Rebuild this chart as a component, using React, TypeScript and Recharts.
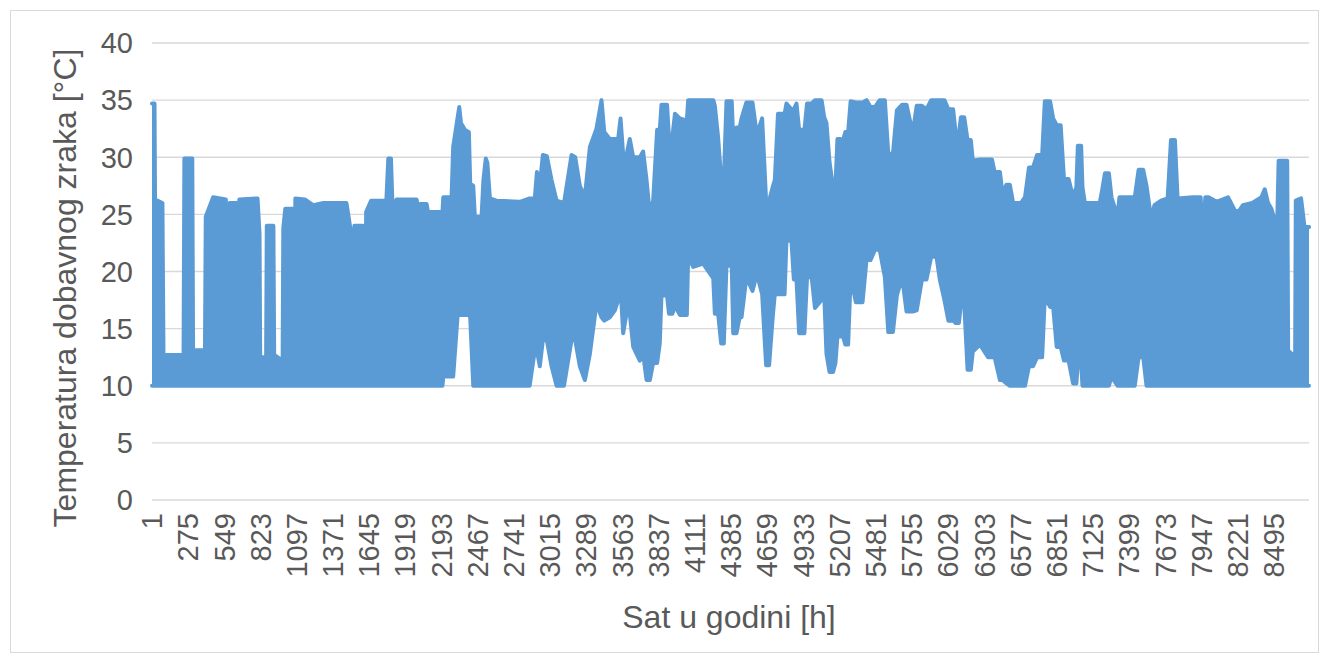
import { Area, AreaChart, CartesianGrid, XAxis, YAxis } from "recharts";

// hourly air temperature, drawn as the daily low/high envelope
const hours = [
  1, 20, 24, 80, 88, 240, 246, 306, 312, 402, 408, 464, 560, 566, 583, 588, 645, 654, 662, 800,
  815, 820, 865, 870, 920, 926, 990, 995, 1010, 1068, 1072, 1080, 1086, 1158, 1221, 1300, 1473, 1505, 1512, 1528,
  1533, 1598, 1603, 1616, 1622, 1660, 1764, 1775, 1790, 1810, 1822, 1852, 2004, 2010, 2080, 2090, 2200, 2206, 2269, 2281,
  2315, 2327, 2340, 2370, 2400, 2410, 2433, 2445, 2496, 2510, 2528, 2540, 2559, 2609, 2786, 2860, 2899, 2915, 2937, 2960,
  2990, 3026, 3064, 3120, 3177, 3205, 3240, 3278, 3316, 3366, 3404, 3425, 3467, 3505, 3530, 3548, 3568, 3593, 3618, 3644,
  3694, 3719, 3745, 3770, 3795, 3825, 3845, 3858, 3900, 3915, 3940, 3960, 3997, 4050, 4060, 4098, 4173, 4250, 4262, 4287,
  4310, 4330, 4350, 4390, 4401, 4426, 4450, 4464, 4501, 4547, 4580, 4620, 4650, 4673, 4700, 4716, 4740, 4790, 4804, 4842,
  4860, 4880, 4900, 4940, 4960, 4995, 5020, 5070, 5090, 5107, 5130, 5157, 5175, 5190, 5208, 5233, 5250, 5271, 5290, 5330,
  5380, 5410, 5440, 5475, 5510, 5549, 5575, 5610, 5640, 5680, 5713, 5760, 5790, 5830, 5864, 5900, 5940, 5965, 6000, 6030,
  6066, 6085, 6110, 6125, 6150, 6175, 6200, 6215, 6270, 6330, 6360, 6380, 6420, 6440, 6470, 6495, 6520, 6580, 6610, 6640,
  6670, 6702, 6740, 6760, 6800, 6823, 6850, 6880, 6905, 6940, 6974, 6999, 7010, 7035, 7045, 7063, 7176, 7195, 7215, 7245,
  7265, 7310, 7325, 7441, 7470, 7505, 7530, 7565, 7590, 7640, 7690, 7715, 7745, 7765, 7880, 7940, 7950, 7960, 7975, 8000,
  8060, 8147, 8200, 8230, 8260, 8330, 8400, 8425, 8450, 8475, 8500, 8520, 8530, 8595, 8602, 8655, 8660, 8700, 8725, 8760,
];

const lowTemps = [
  10, 10, 10, 10, 10, 10, 10, 10, 10, 10, 10, 10, 10, 10, 10, 10, 10, 10, 10, 10,
  10, 10, 10, 10, 10, 10, 10, 10, 10, 10, 10, 10, 10, 10, 10, 10, 10, 10, 10, 10,
  10, 10, 10, 10, 10, 10, 10, 10, 10, 10, 10, 10, 10, 10, 10, 10, 10, 10.8, 10.8, 10.8,
  16.2, 16.2, 16.2, 16.2, 16.2, 16, 10, 10, 10, 10, 10, 10, 10, 10, 10, 10, 13.1, 13.1, 11.7, 14,
  14, 11.7, 10, 10, 14, 14, 11.7, 10.5, 12.8, 17.2, 16, 15.7, 16, 16.6, 17.5, 18.6, 14.6, 16.3, 16.3, 13.4,
  12.2, 12.8, 10.5, 10.5, 12, 12, 13.7, 17.9, 17.9, 16.3, 16.3, 17, 16.2, 16.2, 21.3, 20.4, 20.7, 19.4, 16.3, 16.3,
  13.7, 13.7, 20.5, 20.5, 14.6, 14.6, 16, 16, 19.5, 18.3, 19.8, 18, 11.8, 11.8, 16, 18, 18, 18, 22.7, 22.7,
  19.3, 19.3, 14.6, 14.6, 19.5, 19.5, 16.8, 17.5, 18, 12.8, 11.2, 11.2, 12, 14.3, 14.3, 14.3, 13.6, 13.6, 19.5, 17.3,
  17.3, 21, 21, 21.9, 21.9, 19.5, 14.7, 14.7, 17.9, 19.5, 16.5, 16.5, 16.6, 19.3, 19.3, 21.3, 21.3, 19.3, 17.5, 15.7,
  15.7, 15.5, 15.5, 17.2, 17.2, 11.4, 11.4, 13, 13.6, 12.5, 12.5, 12.5, 10.5, 10.5, 10.2, 10, 10, 10, 10, 11.7,
  11.7, 12.5, 12.5, 17.8, 16.9, 16.9, 13.4, 13.4, 12.2, 12.2, 10.2, 10.2, 12, 12, 10, 10, 10, 10, 10, 10,
  10.8, 10, 10, 10, 12.5, 12.5, 10, 10, 10, 10, 10, 10, 10, 10, 10, 10, 10, 10, 10, 10,
  10, 10, 10, 10, 10, 10, 10, 10, 10, 10, 10, 10, 10, 10, 10, 10, 10, 10, 10, 10,
];

const highTemps = [
  34.7, 34.7, 26.3, 26, 12.7, 12.7, 29.9, 29.9, 13.1, 13.1, 24.8, 26.5, 26.3, 13.1, 13.1, 26, 26, 24.8, 26.3, 26.4,
  23.3, 12.5, 12.5, 24, 24, 12.7, 12.2, 23.8, 25.5, 25.5, 12.5, 12.5, 26.4, 26.3, 25.8, 26, 26, 23.6, 12.5, 12.5,
  24, 24, 12.5, 12.5, 25.2, 26.2, 26.2, 26.2, 29.9, 29.9, 25.6, 26.3, 26.3, 25.9, 25.9, 25.2, 25.2, 26.5, 26.5, 30.9,
  33.5, 34.4, 33, 32.4, 32.2, 27.7, 27.5, 24.8, 24.8, 28, 29.9, 29.5, 26.4, 26.2, 26.1, 26.4, 26.4, 28.7, 27.6, 30.2,
  30.1, 28, 26.2, 26, 30.2, 30, 27.5, 26.5, 30.9, 32.5, 35, 32.2, 31.6, 31.6, 31.6, 33.4, 30.2, 30.2, 31.6, 30,
  30, 30.5, 28, 25, 26.2, 32.4, 32.4, 34.6, 34.6, 31.7, 31.7, 33.8, 33.4, 33.2, 35, 35, 35, 35, 34.5, 31.7,
  28, 28, 34.9, 34.9, 31.5, 32.6, 32.6, 33.4, 34.8, 34.8, 32, 33.4, 26.2, 26.2, 27.4, 28, 33.8, 33.8, 34.7, 34.2,
  34.2, 34.7, 32.4, 32.4, 34.7, 34.7, 35, 35, 33.5, 33, 29.6, 27.3, 27.5, 31.6, 31.6, 31.5, 32.2, 32.2, 34.9, 34.8,
  34.8, 35, 34.4, 34.4, 35, 35, 30.3, 30.3, 34.1, 34.6, 34.6, 32.1, 34.5, 34.5, 34.2, 35, 35, 35, 35, 34.2,
  34.2, 32.1, 32.1, 33.5, 33.5, 31.5, 31.5, 29.7, 29.8, 29.8, 29.8, 28.7, 28.7, 26.8, 27.6, 27.6, 26, 26, 26.5, 29.1,
  29.1, 30.2, 30.2, 34.9, 34.9, 33.4, 32.8, 32.8, 28.1, 28.1, 26.5, 27.4, 31, 31, 27.4, 26, 26, 27.2, 28.6, 28.6,
  26.5, 24.8, 26.5, 26.5, 28.9, 28.9, 27.5, 24.6, 25.8, 26.2, 26.4, 31.5, 31.5, 26.4, 26.5, 26.5, 23.6, 23.6, 26.5, 26.5,
  26.1, 26.5, 25.3, 25.3, 25.8, 26, 26.5, 27.2, 26, 25.5, 24.5, 24.5, 29.7, 29.7, 13.1, 12.5, 26.2, 26.4, 24, 23.9,
];

const hourTicks = [
  1, 275, 549, 823, 1097, 1371, 1645, 1919, 2193, 2467, 2741, 3015, 3289, 3563, 3837, 4111,
  4385, 4659, 4933, 5207, 5481, 5755, 6029, 6303, 6577, 6851, 7125, 7399, 7673, 7947, 8221, 8495,
];
const tempTicks = [0, 5, 10, 15, 20, 25, 30, 35, 40];

const chartData = hours.map((hour, i) => ({
  hour,
  temp: [lowTemps[i], highTemps[i]],
}));

const FONT = '"Liberation Sans", Arial, sans-serif';
const TEXT = "#595959";
const BLUE = "#5B9BD5";

function HourTick({ x, y, payload }: any) {
  return (
    <text
      x={x}
      y={y}
      transform={`rotate(-90 ${x} ${y})`}
      textAnchor="end"
      dy="0.35em"
      fill={TEXT}
      fontSize={29}
      fontFamily={FONT}
    >
      {payload.value}
    </text>
  );
}

export default function App() {
  return (
    <div
      style={{
        position: "absolute",
        left: 0,
        top: 0,
        width: 1328,
        height: 661,
        background: "#fff",
        fontFamily: FONT,
      }}
    >
      <div
        style={{
          position: "absolute",
          left: 10,
          top: 10,
          width: 1307,
          height: 641,
          border: "1px solid #d9d9d9",
        }}
      />
      <AreaChart
        width={1328}
        height={661}
        data={chartData}
        margin={{ top: 43, right: 19, bottom: 61, left: 0 }}
        style={{ position: "absolute", left: 0, top: 0 }}
      >
        <CartesianGrid vertical={false} stroke="#d9d9d9" strokeWidth={1.3} />
        <XAxis
          dataKey="hour"
          type="number"
          domain={[1, 8760]}
          ticks={hourTicks}
          interval={0}
          axisLine={false}
          tickLine={false}
          tickSize={0}
          tickMargin={13}
          height={100}
          tick={<HourTick />}
        />
        <YAxis
          type="number"
          domain={[0, 40]}
          ticks={tempTicks}
          interval={0}
          axisLine={false}
          tickLine={false}
          tickSize={0}
          tickMargin={19}
          width={152}
          tick={{ fill: TEXT, fontSize: 29, fontFamily: FONT }}
        />
        <Area
          type="linear"
          dataKey="temp"
          stroke={BLUE}
          strokeWidth={4}
          strokeLinejoin="round"
          strokeLinecap="round"
          fill={BLUE}
          fillOpacity={1}
          isAnimationActive={false}
        />
      </AreaChart>
      <div
        style={{
          position: "absolute",
          left: 65,
          top: 288,
          transform: "translate(-50%, -50%) rotate(-90deg)",
          whiteSpace: "nowrap",
          fontSize: 32,
          color: TEXT,
        }}
      >
        Temperatura dobavnog zraka [°C]
      </div>
      <div
        style={{
          position: "absolute",
          left: 729,
          top: 617,
          transform: "translate(-50%, -50%)",
          whiteSpace: "nowrap",
          fontSize: 32,
          color: TEXT,
        }}
      >
        Sat u godini [h]
      </div>
    </div>
  );
}
